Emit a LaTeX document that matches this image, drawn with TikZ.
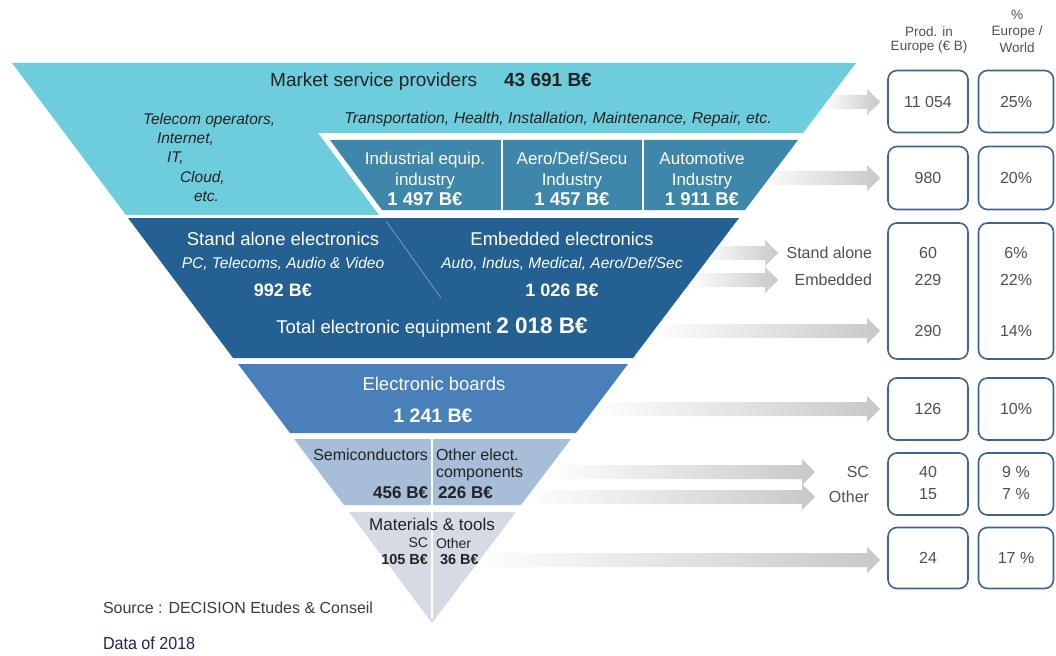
\documentclass[tikz,border=0pt]{standalone}
\usepackage{fontspec}
\setmainfont{Liberation Sans}
\newfontfamily\narrowfont[FakeStretch=0.92]{Liberation Sans}
\usetikzlibrary{calc,positioning}
\definecolor{mscyan}{RGB}{110,205,220}
\definecolor{indblue}{RGB}{62,135,170}
\definecolor{eqblue}{RGB}{36,96,146}
\definecolor{bdblue}{RGB}{74,128,186}
\definecolor{scblue}{RGB}{166,190,216}
\definecolor{mtgray}{RGB}{214,218,228}
\definecolor{boxblue}{RGB}{62,100,140}
\definecolor{numgray}{RGB}{80,80,80}
\definecolor{arrowgray}{RGB}{200,200,200}
\definecolor{textdark}{RGB}{35,35,35}
\definecolor{srcgray}{RGB}{60,60,60}
\definecolor{datanavy}{RGB}{30,40,80}
\definecolor{divline}{RGB}{140,170,200}

% grey arrow fading in from the left, y taken from the start point
\newcommand{\fadearrow}[2]{%
  \shade[left color=white, middle color=arrowgray, right color=arrowgray]
    let \p1=(#1), \p2=(#2) in
    (\x1,\y1+7pt) -- (\x2-13pt,\y1+7pt) -- (\x2-13pt,\y1+13pt) -- (\x2,\y1)
    -- (\x2-13pt,\y1-13pt) -- (\x2-13pt,\y1-7pt) -- (\x1,\y1-7pt) -- cycle;}

\begin{document}
\begin{tikzpicture}[x=1pt,y=-1pt,
  every node/.style={inner sep=0pt, outer sep=0pt},
  fs/.style 2 args={font=\fontsize{#1}{#2}\selectfont},
  fsb/.style 2 args={font=\bfseries\fontsize{#1}{#2}\selectfont},
  fsi/.style 2 args={font=\itshape\fontsize{#1}{#2}\selectfont},
  pbox/.style={draw=boxblue, line width=1.6pt, rounded corners=9pt, fill=white,
    text=numgray, font=\fontsize{16}{19}\selectfont},
  num/.style={text=numgray, font=\fontsize{16}{19}\selectfont},
  side/.style={text=numgray, font=\fontsize{16}{19}\selectfont, anchor=east}]
\useasboundingbox (0,0) rectangle (1056,655);

% Column headers
\node[fs={13.5}{14.5}, text=numgray, align=center] (hprod) at (929,40) {Prod. in\\Europe (€ B)};
\node[fs={13.5}{16.5}, text=numgray, align=center] (hworld) at (1017,31) {\%\\Europe /\\World};

% Boxes, first column
\node[pbox, minimum width=80pt, minimum height=62pt] (p1) at (928,101.5) {11 054};
\node[pbox, minimum width=80pt, minimum height=63pt] (p2) at (928,178) {980};
\node[pbox, minimum width=80pt, minimum height=136pt] (p3) at (928,291) {};
\node[pbox, minimum width=80pt, minimum height=62pt] (p4) at (928,409) {126};
\node[pbox, minimum width=80pt, minimum height=62pt] (p5) at (928,484) {};
\node[pbox, minimum width=80pt, minimum height=61pt] (p6) at (928,558) {24};
% Boxes, second column
\node[pbox, minimum width=75pt, minimum height=62pt] (w1) at (1016,101.5) {25\%};
\node[pbox, minimum width=75pt, minimum height=63pt] (w2) at (1016,178) {20\%};
\node[pbox, minimum width=75pt, minimum height=136pt] (w3) at (1016,291) {};
\node[pbox, minimum width=75pt, minimum height=62pt] (w4) at (1016,409) {10\%};
\node[pbox, minimum width=75pt, minimum height=62pt] (w5) at (1016,484) {};
\node[pbox, minimum width=75pt, minimum height=61pt] (w6) at (1016,558) {17 \%};

% Numbers in the split boxes
\node[num] (p3a) at (928,253) {60};
\node[num] (p3b) at (928,280) {229};
\node[num] (p3c) at (928,331) {290};
\node[num] (w3a) at (1016,253) {6\%};
\node[num] (w3b) at (1016,280) {22\%};
\node[num] (w3c) at (1016,331) {14\%};
\node[num] (p5a) at (928,472) {40};
\node[num] (p5b) at (928,494) {15};
\node[num] (w5a) at (1016,472) {9 \%};
\node[num] (w5b) at (1016,494) {7 \%};

% Labels in front of the split boxes
\node[side] (sa) at (872,253) {Stand alone};
\node[side] (emb) at (872,280) {Embedded};
\node[side] (scl) at (869,472) {SC};
\node[side] (oth) at (869,497) {Other};

% Arrow ends
\coordinate (a1) at (822,102);
\coordinate (a2) at (758,178);
\coordinate (a3) at (703,253);
\coordinate (a4) at (688,280);
\coordinate (a5) at (648,331);
\coordinate (a6) at (588,409);
\coordinate (a7) at (542,472);
\coordinate (a8) at (522,497);
\coordinate (a9) at (468,560);
\coordinate (satip) at (778,253);
\coordinate (embtip) at (778,280);
\coordinate (sctip) at (815,472);
\coordinate (othtip) at (815,497);

\fadearrow{a1}{[xshift=-8pt]p1.west}
\fadearrow{a2}{[xshift=-8pt]p2.west}
\fadearrow{a3}{satip}
\fadearrow{a4}{embtip}
\fadearrow{a5}{[xshift=-8pt]p3.west}
\fadearrow{a6}{[xshift=-8pt]p4.west}
\fadearrow{a7}{sctip}
\fadearrow{a8}{othtip}
\fadearrow{a9}{[xshift=-8pt]p6.west}

% Pyramid bands, top to bottom
\fill[mscyan] (12,63) -- (856,63) -- (803,133) -- (318,133) -- (379,215) -- (126,215) -- cycle;
\fill[indblue] (330,140) -- (798,140) -- (745,210) -- (382,210) -- cycle;
\draw[white, line width=2.5pt] (502,140) -- (502,210) (643,140) -- (643,210);
\fill[eqblue] (128,218) -- (739,218) -- (633,358) -- (233,358) -- cycle;
\draw[divline, line width=0.6pt] (386,221) -- (441,298);
\fill[bdblue] (238,364) -- (628,364) -- (576,433) -- (290,433) -- cycle;
\fill[scblue] (294,439) -- (571,439) -- (521,505) -- (344,505) -- cycle;
\draw[white, line width=2pt] (432,439) -- (432,505);
\fill[mtgray] (349,512) -- (516,512) -- (432,623) -- cycle;
\draw[white, line width=2pt] (432,512) -- (432,619);

% Market service providers
\node[fs={19}{22}, text=textdark] (msp) at (431,82) {Market service providers\hspace{27pt}\textbf{43 691 B€}};
\node[fsi={15.5}{18}, text=textdark, anchor=west] (tel) at (143,120) {Telecom operators,};
\node[fsi={15.5}{18}, text=textdark, anchor=west] (inet) at (157,139) {Internet,};
\node[fsi={15.5}{18}, text=textdark, anchor=west] (itx) at (167,158) {IT,};
\node[fsi={15.5}{18}, text=textdark, anchor=west] (cld) at (180,178) {Cloud,};
\node[fsi={15.5}{18}, text=textdark, anchor=west] (etc) at (194,197) {etc.};
\node[fsi={15.8}{18}, text=textdark] (trn) at (558,119) {Transportation, Health, Installation, Maintenance, Repair, etc.};

% Industries
\node[fs={17}{20.5}, text=white, align=center] (ind) at (425,179) {Industrial equip.\\industry\\{\bfseries\fontsize{18.5}{20.5}\selectfont 1 497 B€}};
\node[fs={17}{20.5}, text=white, align=center] (aero) at (572,179) {Aero/Def/Secu\\Industry\\{\bfseries\fontsize{18.5}{20.5}\selectfont 1 457 B€}};
\node[fs={17}{20.5}, text=white, align=center] (auto) at (702,179) {Automotive\\Industry\\{\bfseries\fontsize{18.5}{20.5}\selectfont 1 911 B€}};

% Electronic equipment
\node[fs={18.5}{21}, text=white] (sah) at (283,239) {Stand alone electronics};
\node[fsi={15.5}{18}, text=white] (sas) at (283,264) {PC, Telecoms, Audio \& Video};
\node[fsb={18}{21}, text=white] (sav) at (283,290) {992 B€};
\node[fs={18.5}{21}, text=white] (emh) at (562,239) {Embedded electronics};
\node[fsi={15.5}{18}, text=white] (ems) at (562,264) {Auto, Indus, Medical, Aero/Def/Sec};
\node[fsb={18}{21}, text=white] (emv) at (562,290) {1 026 B€};
\node[fs={18.5}{21}, text=white] (tot) at (432,328) {Total electronic equipment {\bfseries\fontsize{22.5}{24}\selectfont 2 018 B€}};

% Electronic boards
\node[fs={18.5}{21}, text=white] (ebh) at (434,384) {Electronic boards};
\node[fsb={19.5}{22}, text=white] (ebv) at (433,416) {1 241 B€};

% Components
\node[fs={16}{19}, text=textdark, anchor=east] (sch) at (428,455) {Semiconductors};
\node[fs={16}{19}, text=textdark, anchor=west] (oc1) at (436,455) {Other elect.};
\node[fs={16}{19}, text=textdark, anchor=west] (oc2) at (436,474) {components};
\node[fsb={17}{19}, text=textdark, anchor=east] (scv) at (428,493) {456 B€};
\node[fsb={17}{19}, text=textdark, anchor=west] (ocv) at (438,493) {226 B€};

% Materials and tools
\node[fs={17}{19}, text=textdark] (mth) at (432,524) {Materials \& tools};
\node[fs={14}{16}, text=textdark, anchor=east] (msc) at (428,543) {SC};
\node[fs={14}{16}, text=textdark, anchor=west] (mot) at (436,543) {Other};
\node[fsb={14.5}{16}, text=textdark, anchor=east] (msv) at (428,560) {105 B€};
\node[fsb={14.5}{16}, text=textdark, anchor=west] (mov) at (440,560) {36 B€};

% Source
\node[fs={16}{19}, text=srcgray, anchor=west] (src) at (103,608) {Source : DECISION Etudes \& Conseil};
\node[font=\narrowfont\fontsize{17.5}{20}\selectfont, text=datanavy, anchor=west] (dat) at (103,643) {Data of 2018};
\end{tikzpicture}
\end{document}
